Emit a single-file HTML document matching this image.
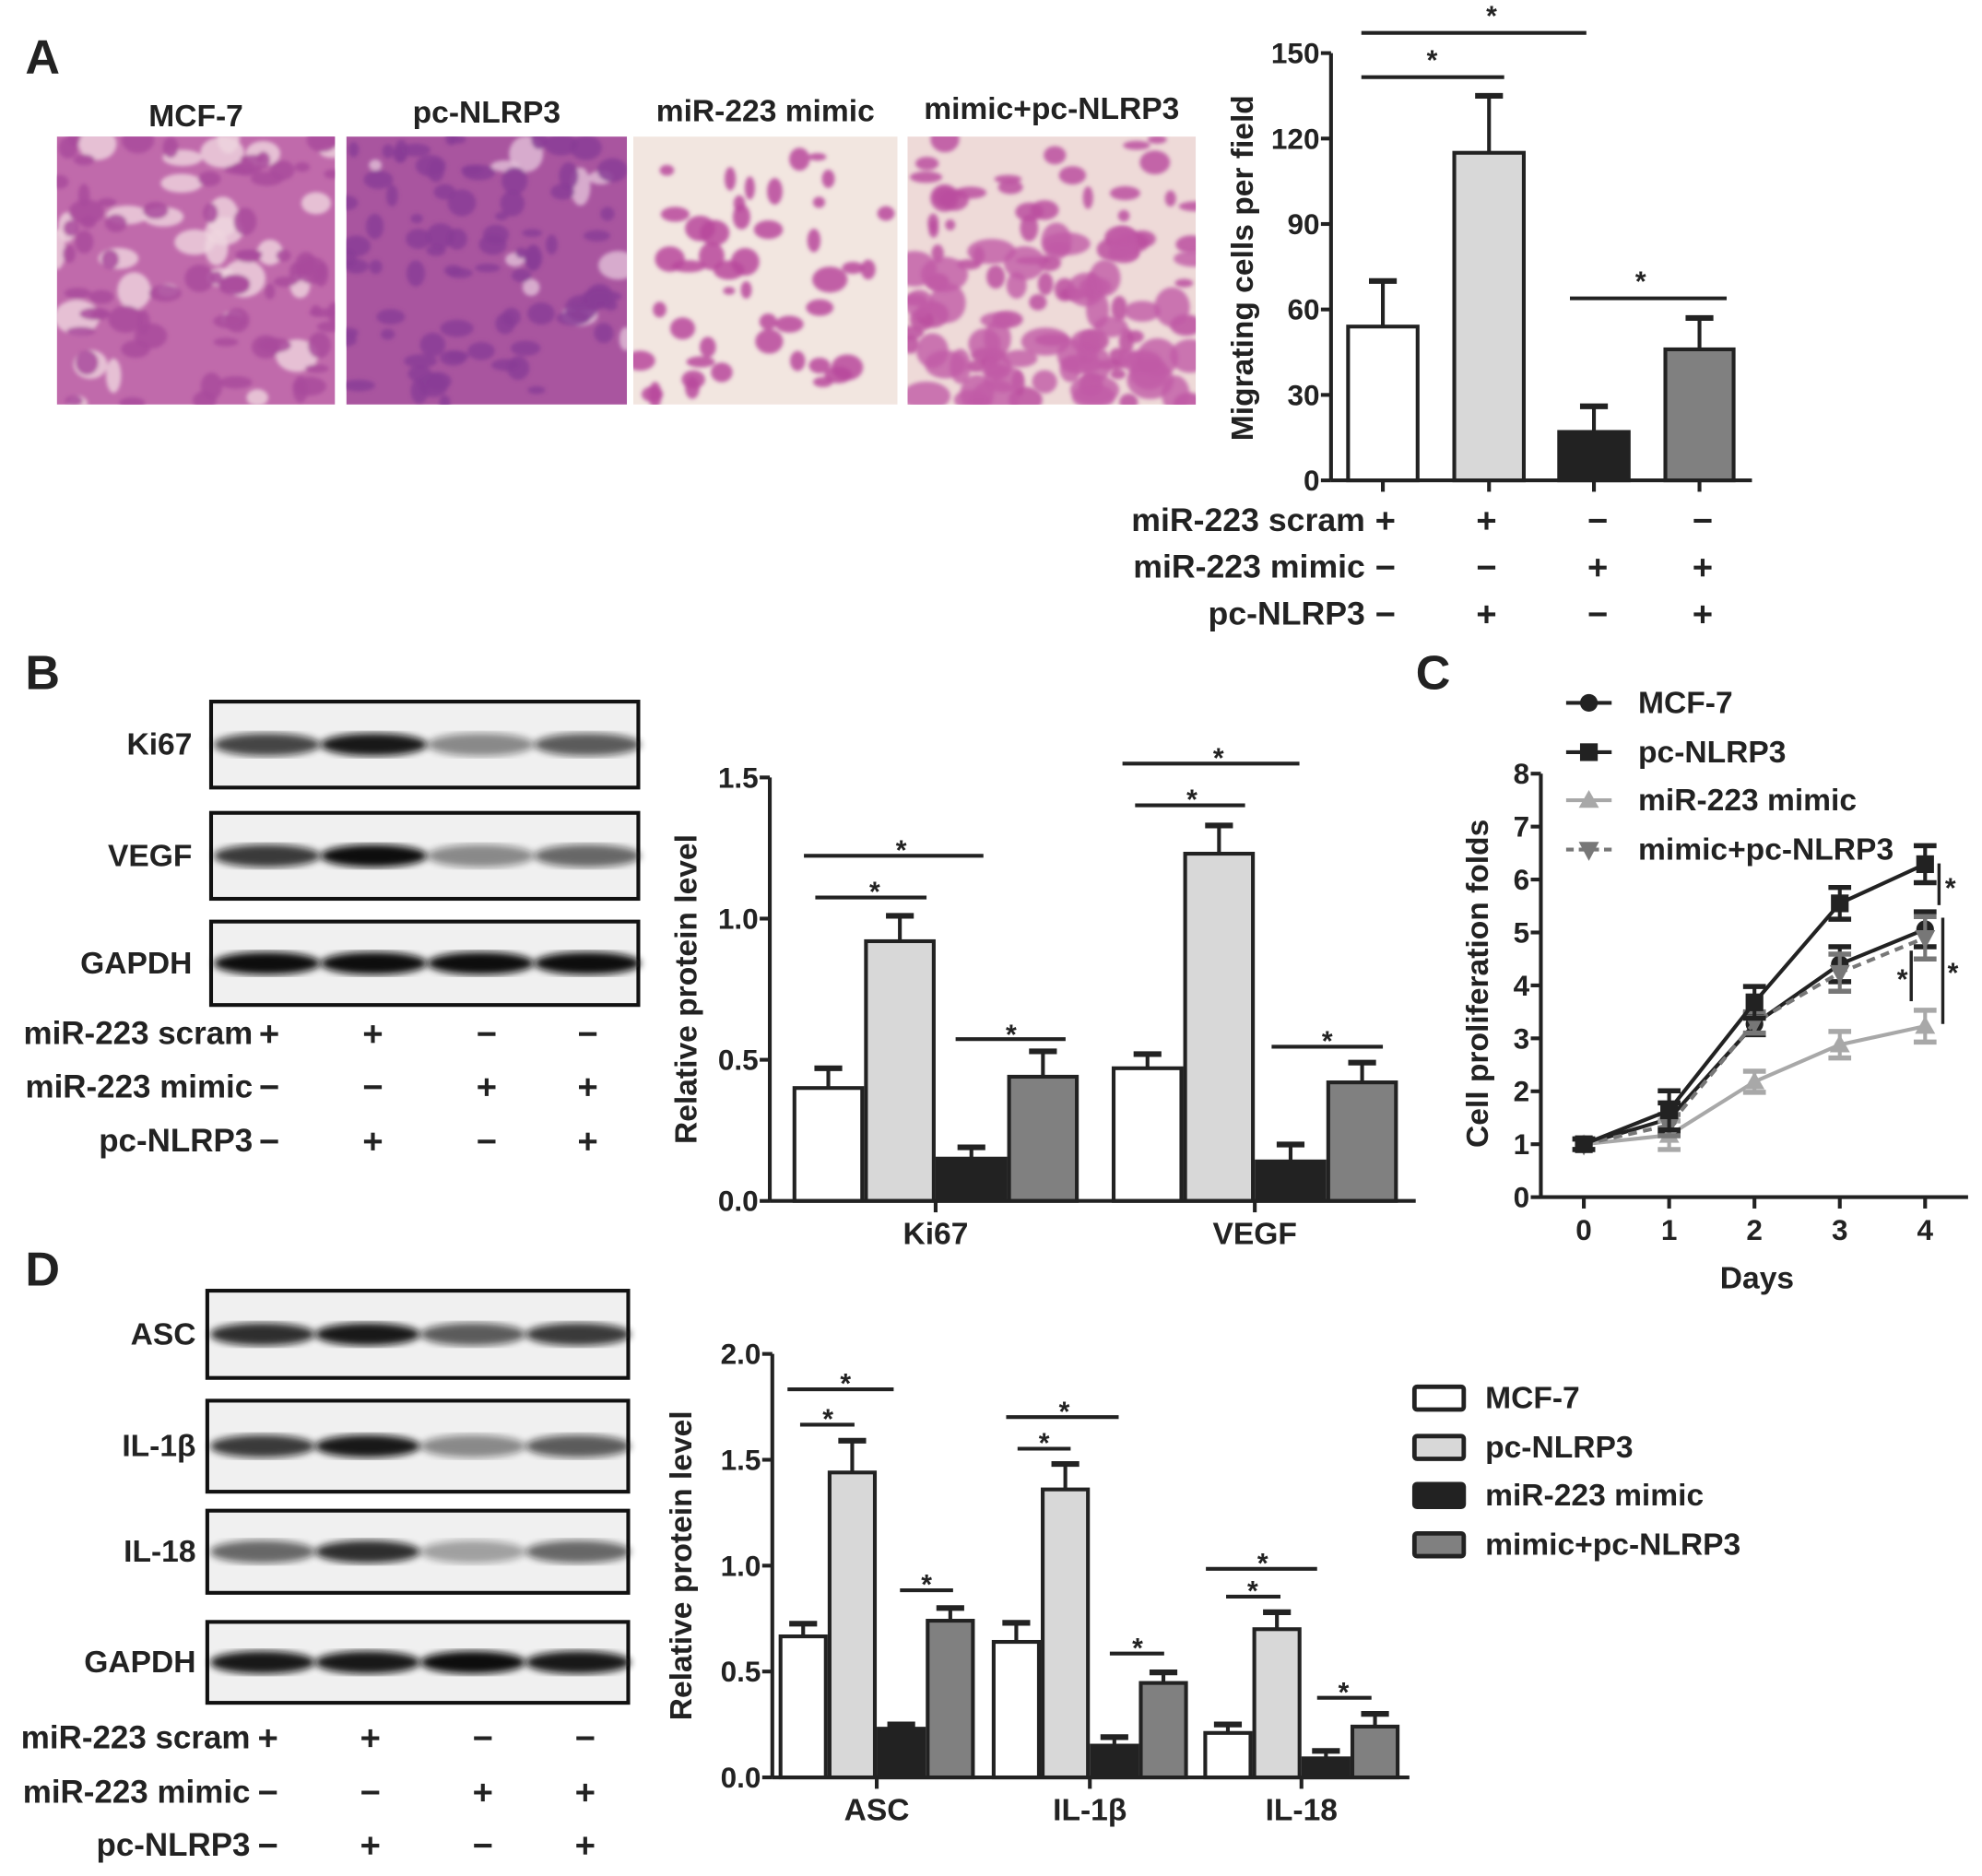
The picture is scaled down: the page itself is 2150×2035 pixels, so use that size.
<!DOCTYPE html>
<html><head><meta charset="utf-8"><style>
html,body{margin:0;padding:0;background:#fff}
svg{display:block}
text{font-family:"Liberation Sans",Arial,sans-serif;font-weight:bold;fill:#222}
</style></head><body>
<svg id="fig" width="2150" height="2035" viewBox="0 0 1568 1484" preserveAspectRatio="none" xmlns="http://www.w3.org/2000/svg">
<defs>
<filter id="blur2"><feGaussianBlur stdDeviation="3"/></filter>
<filter id="blur1"><feGaussianBlur stdDeviation="1.5"/></filter>
</defs>
<rect width="1568" height="1484" fill="#fff"/>
<g id="root"></g>
</svg>
<script>
// ---------- data ----------
const groupNames = ["MCF-7","pc-NLRP3","miR-223 mimic","mimic+pc-NLRP3"];
const barFills = ["#ffffff","#d8d8d8","#222222","#808080"];
// Panel A
const aTicks = [0,30,60,90,120,150];
const aValues = [54,115,17,46];
const aErrors = [16,20,9,11];
// Panel B
const bCategories = ["Ki67","VEGF"];
const bTicks = [0,0.5,1.0,1.5];
const bValues = [[0.40,0.92,0.15,0.44],[0.47,1.23,0.14,0.42]];
const bErrors = [[0.07,0.09,0.04,0.09],[0.05,0.10,0.06,0.07]];
// Panel C
const cDays = [0,1,2,3,4];
const cTicks = [0,1,2,3,4,5,6,7,8];
const cMCF7 = [1.0,1.48,3.27,4.40,5.06];
const cMCF7Err = [0.1,0.3,0.2,0.33,0.33];
const cPcNLRP3 = [1.0,1.64,3.68,5.55,6.29];
const cPcNLRP3Err = [0.1,0.37,0.3,0.3,0.35];
const cMimic = [1.0,1.17,2.18,2.88,3.23];
const cMimicErr = [0.1,0.27,0.2,0.25,0.3];
const cMimicPc = [1.0,1.36,3.30,4.24,4.90];
const cMimicPcErr = [0.1,0.2,0.2,0.35,0.4];
// Panel D
const dCategories = ["ASC","IL-1β","IL-18"];
const dTicks = [0,0.5,1.0,1.5,2.0];
const dValues = [[0.666,1.44,0.23,0.74],[0.64,1.36,0.15,0.446],[0.21,0.70,0.09,0.24]];
const dErrors = [[0.06,0.15,0.02,0.06],[0.09,0.12,0.04,0.05],[0.04,0.08,0.035,0.06]];

const FS=24.5;
const NS="http://www.w3.org/2000/svg";
const root=document.getElementById('root');
function el(tag,attrs,parent){const e=document.createElementNS(NS,tag);for(const k in attrs)e.setAttribute(k,attrs[k]);(parent||root).appendChild(e);return e;}
function txt(x,y,s,size,anchor,parent){const t=el('text',{x:x,y:y,'font-size':size,'text-anchor':anchor||'start'},parent);t.textContent=s;return t;}
function line(x1,y1,x2,y2,w,col,parent){return el('line',{x1:x1,y1:y1,x2:x2,y2:y2,stroke:col||'#222','stroke-width':w||3},parent);}
function star(x,y,parent){const t=txt(x,y,'*',22,'middle',parent);}
function sig(x1,x2,y,sx,sy,parent){const l=line(x1,y,x2,y,3,'#222',parent);star(sx,sy,parent);}

// panel letters
[["A",20,58],["B",20,545],["C",1120,545],["D",20,1017]].forEach(p=>{const t=txt(p[1],p[2],p[0],38,'start');});

// ---------- micrographs ----------
let seed=7;function rnd(){seed=(seed*1103515245+12345)%2147483648;return seed/2147483648;}
const imgs=[{x:45,w:220,base:"#c06aab",blob:"#a94a9c",light:"#efd6df",nl:30,nb:70,lab:"MCF-7",ly:100},
 {x:274,w:222,base:"#a9559f",blob:"#8a3d96",light:"#e2c0d8",nl:10,nb:80,lab:"pc-NLRP3",ly:97},
 {x:501,w:209,base:"#f2e6e0",blob:"#b9489c",light:"#faf3ee",nl:0,nb:45,lab:"miR-223 mimic",ly:96},
 {x:718,w:228,base:"#eedad8",blob:"#bb4fa0",light:"#f7ede8",nl:0,nb:70,lab:"mimic+pc-NLRP3",ly:94}];
imgs.forEach((m,i)=>{
 const g=el('g',{});
 
 
 const cp=el('clipPath',{id:'cp'+i},g);el('rect',{x:m.x,y:108,width:m.w,height:212},cp);
 const ig=el('g',{'clip-path':'url(#cp'+i+')'},g);
 el('rect',{x:m.x,y:108,width:m.w,height:212,fill:m.base},ig);
 const bg=el('g',{filter:'url(#blur1)'},ig);
 for(let k=0;k<m.nl;k++)el('ellipse',{cx:m.x+rnd()*m.w,cy:108+rnd()*212,rx:5+rnd()*14,ry:4+rnd()*12,fill:m.light,opacity:0.8},bg);
 for(let k=0;k<m.nb;k++)el('ellipse',{cx:m.x+rnd()*m.w,cy:108+rnd()*212,rx:4+rnd()*10,ry:3+rnd()*8,fill:m.blob,opacity:0.85},bg);
 const t=txt(m.x+m.w/2,m.ly,m.lab,FS,'middle',g);
 
 
});
(function(){const g=el('g',{'clip-path':'url(#cp3)',filter:'url(#blur1)'});for(let k=0;k<50;k++)el('ellipse',{cx:718+rnd()*228,cy:190+rnd()*130,rx:8+rnd()*12,ry:6+rnd()*10,fill:'#c05aa6',opacity:0.8},g);})();

// ---------- generic bar axis ----------
function yAxis(g,x,y0,y1,ticks,vmax,fmt){
 const ax=line(x,y0,x,y1,3,'#222',g);
 
 ticks.forEach(t=>{const y=y0-(y0-y1)*t/vmax;line(x-8,y,x,y,3,'#222',g);
  const lb=txt(x-9,y+8,fmt(t),23,'end',g);});
}
function bar(g,x0,x1,yZero,yTop,fill,yErr){
 const b=el('rect',{x:x0+1.5,y:yTop,width:x1-x0-3,height:yZero-yTop,fill:fill,stroke:'#222','stroke-width':3},g);
 
 
 const cx=(x0+x1)/2;const e=line(cx,yTop,cx,yErr,3,'#222',g);
 
 line(cx-11,yErr,cx+11,yErr,4.5,'#222',g);
}
function signTable(g,labelX,signXs,rowYs,rows,labels,size){
 rows.forEach((r,ri)=>{
  const l=txt(labelX,rowYs[ri]+8,labels[ri],size,'end',g);
  r.forEach((s,ci)=>{const x=signXs[ci];const y=rowYs[ri];
   line(x-7,y,x+7,y,3,'#222',g);
   if(s==='+')line(x,y-7,x,y+7,3,'#222',g);});
 });
}

// ---------- Panel A chart ----------
(function(){
 const g=el('g',{});
 const ax=1053,y0=380,y1=42,vmax=150;const Y=v=>y0-(y0-y1)*v/vmax;
 yAxis(g,ax,y0,y1,aTicks,vmax,t=>String(t));
 const edges=[[1065,1123],[1149,1207],[1232,1290],[1316,1373]];
 aValues.forEach((v,i)=>bar(g,edges[i][0],edges[i][1],y0,Y(v),barFills[i],Y(v+aErrors[i])));
 const xa=line(ax,y0,1386,y0,3,'#222',g);
 edges.forEach(e=>line((e[0]+e[1])/2,y0,(e[0]+e[1])/2,y0+9,3,'#222',g));
 const yl=txt(0,0,'Migrating cells per field',FS,'middle',g);yl.setAttribute('transform','translate(991,212) rotate(-90)');
 
 sig(1077,1190,61,1133,55,g);sig(1077,1255,26,1180,20,g);sig(1242,1366,236,1298,230,g);
 signTable(g,1080,[1096,1176,1264,1347],[412,449,486],[['+','+','−','−'],['−','−','+','+'],['−','+','−','+']],['miR-223 scram','miR-223  mimic','pc-NLRP3'],26);
})();

// ---------- Blots ----------
function blot(g,x0,x1,y0,y1,label,intens,labelX){
 const bg=el('g',{},g);
 el('rect',{x:x0,y:y0,width:x1-x0,height:y1-y0,fill:'#f0f0f0',stroke:'#111','stroke-width':3},bg);
 const w=(x1-x0)/4;const cy=(y0+y1)/2;
 intens.forEach((a,i)=>{el('ellipse',{cx:x0+w*(i+0.5)+2,cy:cy,rx:w*0.5,ry:9,fill:'#111',opacity:a,filter:'url(#blur2)'},bg);});
 const t=txt(labelX,cy+8,label,FS,'end',bg);
}
(function(){
 const g=el('g',{});
 blot(g,167,505,555,623,'Ki67',[0.75,0.95,0.45,0.65],152);
 blot(g,167,505,643,711,'VEGF',[0.8,1,0.45,0.6],152);
 blot(g,167,505,729,795,'GAPDH',[1,1,1,1],152);
 signTable(g,200,[213,295,385,465],[818,860,903],[['+','+','−','−'],['−','−','+','+'],['−','+','−','+']],['miR-223 scram','miR-223  mimic','pc-NLRP3'],25.5);
 const g2=el('g',{});
 blot(g2,164,497,1021,1090,'ASC',[0.85,0.95,0.65,0.8],155);
 blot(g2,164,497,1108,1180,'IL-1β',[0.8,0.95,0.45,0.65],155);
 blot(g2,164,497,1195,1260,'IL-18',[0.6,0.85,0.35,0.6],155);
 blot(g2,164,497,1283,1347,'GAPDH',[0.95,0.95,1,0.95],155);
 signTable(g2,198,[212,293,382,463],[1375,1418,1460],[['+','+','−','−'],['−','−','+','+'],['−','+','−','+']],['miR-223 scram','miR-223  mimic','pc-NLRP3'],25.5);
})();

// ---------- grouped bar chart ----------
function grouped(name,ax,y0,y1,xEnd,vmax,ticks,cats,vals,errs,groupStarts,bw,ytitleX,sigs){
 const g=el('g',{});
 const Y=v=>y0-(y0-y1)*v/vmax;
 yAxis(g,ax,y0,y1,ticks,vmax,t=>t.toFixed(1));
 cats.forEach((c,ci)=>{
  vals[ci].forEach((v,i)=>{const x0=groupStarts[ci]+i*bw;bar(g,x0,x0+bw,y0,Y(v),barFills[i],Y(v+errs[ci][i]));});
  const cx=groupStarts[ci]+2*bw;line(cx,y0,cx,y0+9,3,'#222',g);
  const l=txt(cx,y0+34,c,FS,'middle',g);
 });
 const xa=line(ax,y0,xEnd,y0,3,'#222',g);
 const yl=txt(0,0,'Relative protein level',FS,'middle',g);yl.setAttribute('transform','translate('+ytitleX+','+((y0+y1)/2)+') rotate(-90)');
 
 sigs.forEach(s=>sig(s[0],s[1],s[2],s[3],s[4],g));
}
grouped('chart-b',609,950,615,1120,1.5,bTicks,bCategories,bValues,bErrors,[627,879.5],56.6,551,
 [[645,733,710,692,713],[636,778,677,713,680],[756,843,822,800,826],[898,985,637,943,640],[888,1028,604,964,607],[1006,1094,828,1050,831]]);
grouped('chart-d',611,1406,1071,1115,2.0,dTicks,dCategories,dValues,dErrors,[616,784.6,952],38.8,547,
 [[623,707,1099,669,1102],[633,676,1127,655,1130],[712,754,1258,733,1261],[796,885,1121,842,1124],[805,847,1146,826,1149],[878,921,1308,900,1311],[954,1042,1241,999,1244],[970,1013,1263,991,1266],[1042,1085,1343,1063,1346]]);

// legend D
(function(){
 const g=el('g',{});
 [1106,1145,1183,1222].forEach((y,i)=>{
  const e=el('g',{},g);
  el('rect',{x:1119,y:y-9,width:39,height:18,fill:barFills[i],stroke:'#222','stroke-width':3.5,rx:2},e);
  txt(1175,y+8,groupNames[i],FS,'start',e);
 });
})();

// ---------- Panel C line chart ----------
(function(){
 const g=el('g',{});
 const ax=1219,y0=947,y1=612,vmax=8;const Y=v=>y0-(y0-y1)*v/vmax;const X=d=>1253+d*67.5;
 yAxis(g,ax,y0,y1,cTicks,vmax,t=>String(t));
 const xa=line(ax,y0,1557,y0,3,'#222',g);
 cDays.forEach(d=>{line(X(d),y0,X(d),y0+9,3,'#222',g);const l=txt(X(d),y0+34,String(d),23,'middle',g);});
 const xt=txt(1390,1019,'Days',FS,'middle',g);
 const yl=txt(0,0,'Cell proliferation folds',FS,'middle',g);yl.setAttribute('transform','translate(1177,778) rotate(-90)');
 
 const series=[
  {n:'mcf-7',v:cMCF7,e:cMCF7Err,c:'#222',m:'circle',d:''},
  {n:'mimic',v:cMimic,e:cMimicErr,c:'#a8a8a8',m:'tri',d:''},
  {n:'mimic-pc',v:cMimicPc,e:cMimicPcErr,c:'#777',m:'itri',d:'7,5'},
  {n:'pc-nlrp3',v:cPcNLRP3,e:cPcNLRP3Err,c:'#222',m:'square',d:''}];
 function marker(p,x,y,m,c){
  if(m==='circle')return el('circle',{cx:x,cy:y,r:7,fill:c},p);
  if(m==='square')return el('rect',{x:x-7,y:y-7,width:14,height:14,fill:c},p);
  if(m==='tri')return el('polygon',{points:(x-8)+','+(y+6)+' '+(x+8)+','+(y+6)+' '+x+','+(y-8),fill:c},p);
  return el('polygon',{points:(x-8)+','+(y-6)+' '+(x+8)+','+(y-6)+' '+x+','+(y+9),fill:c},p);
 }
 series.forEach(s=>{
  const sg=el('g',{},g);
  const pts=s.v.map((v,i)=>X(cDays[i])+','+Y(v)).join(' ');
  const pl=el('polyline',{points:pts,fill:'none',stroke:s.c,'stroke-width':3},sg);
  if(s.d)pl.setAttribute('stroke-dasharray',s.d);
  s.v.forEach((v,i)=>{const x=X(cDays[i]);
   line(x,Y(v-s.e[i]),x,Y(v+s.e[i]),3,s.c,sg);
   line(x-9,Y(v+s.e[i]),x+9,Y(v+s.e[i]),4,s.c,sg);
   line(x-9,Y(v-s.e[i]),x+9,Y(v-s.e[i]),4,s.c,sg);
   const mk=marker(sg,x,Y(v),s.m,s.c);});
 });
 line(1534,683,1534,716,2.5,'#222',g);star(1543,710,g);
 line(1537,726,1537,810,2.5,'#222',g);star(1545,777,g);
 line(1512,752,1512,792,2.5,'#222',g);star(1505,782,g);
 const ly=[556,595,633,672],ls=[series[0],series[3],series[1],series[2]],ln=["MCF-7","pc-NLRP3","miR-223 mimic","mimic+pc-NLRP3"];
 ly.forEach((y,i)=>{const e=el('g',{},g);
  const l=line(1239,y,1275,y,3,ls[i].c,e);if(ls[i].d)l.setAttribute('stroke-dasharray','6,4');
  marker(e,1257,y,ls[i].m,ls[i].c);txt(1296,y+8,ln[i],FS,'start',e);});
})();
</script>
</body></html>
